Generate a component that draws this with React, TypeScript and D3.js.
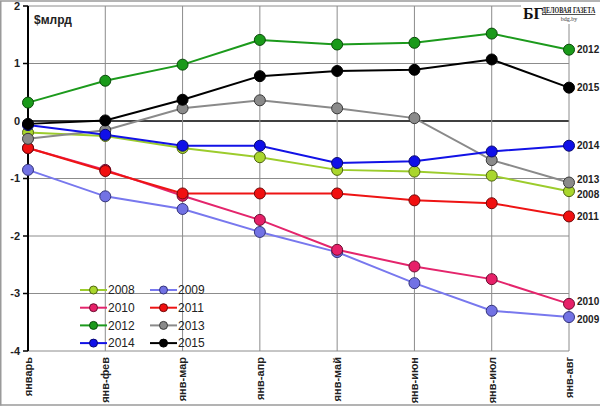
import React from "react";
import * as d3 from "d3";

const categories = ["январь", "янв-фев", "янв-мар", "янв-апр", "янв-май", "янв-июн", "янв-июл", "янв-авг"];
const yTicks = [2, 1, 0, -1, -2, -3, -4];

const s2008 = [-0.2, -0.26, -0.47, -0.63, -0.85, -0.88, -0.95, -1.22];
const s2009 = [-0.85, -1.31, -1.53, -1.93, -2.28, -2.82, -3.3, -3.41];
const s2010 = [-0.47, -0.85, -1.3, -1.72, -2.24, -2.53, -2.75, -3.18];
const s2011 = [-0.47, -0.87, -1.26, -1.26, -1.26, -1.38, -1.43, -1.66];
const s2012 = [0.32, 0.7, 0.98, 1.41, 1.33, 1.36, 1.52, 1.24];
const s2013 = [-0.31, -0.16, 0.22, 0.36, 0.22, 0.05, -0.68, -1.07];
const s2014 = [-0.07, -0.24, -0.43, -0.43, -0.73, -0.7, -0.53, -0.43];
const s2015 = [-0.05, 0.01, 0.37, 0.78, 0.87, 0.89, 1.07, 0.58];

const series = [
  { name: "2008", values: s2008, line: "#9ccc2c", fill: "#a9d62c", stroke: "#4f6410" },
  { name: "2009", values: s2009, line: "#7878ee", fill: "#7272e4", stroke: "#33337a" },
  { name: "2010", values: s2010, line: "#e4256c", fill: "#e62068", stroke: "#6a0d30" },
  { name: "2011", values: s2011, line: "#ee1414", fill: "#f01010", stroke: "#700808" },
  { name: "2012", values: s2012, line: "#1c9a1c", fill: "#1a9a1a", stroke: "#0a4a0a" },
  { name: "2013", values: s2013, line: "#8a8a8a", fill: "#8a8a8a", stroke: "#3a3a3a" },
  { name: "2014", values: s2014, line: "#1212e6", fill: "#1010e8", stroke: "#080870" },
  { name: "2015", values: s2015, line: "#000000", fill: "#000000", stroke: "#000000" },
];

const labelNudge: Record<string, number> = { "2013": -3, "2008": 3, "2010": -2, "2009": 2 };

const W = 600;
const H = 406;
const font = "'Liberation Sans', Arial, sans-serif";

export default function App() {
  const x = d3.scalePoint<string>().domain(categories).range([28, 569]);
  const y = d3.scaleLinear().domain([-4, 2]).range([351, 6]);
  const line = d3
    .line<number>()
    .x((_, i) => x(categories[i]) as number)
    .y((d) => y(d));

  const legendY = (r: number) => 290 + r * 17.7;
  const legendX = [80, 150];

  return (
    <svg
      width={W}
      height={H}
      style={{ position: "absolute", left: 0, top: 0, background: "#fff" }}
      fontFamily={font}
    >
      <rect x={0} y={0} width={W} height={H} fill="#fff" />
      <path d={`M0.75,${H - 0.5} V1 H${W}`} fill="none" stroke="#9a9a9a" strokeWidth={1.5} />
      <line x1={0} x2={W} y1={H - 1} y2={H - 1} stroke="#9a9a9a" strokeWidth={1.5} />

      {yTicks.map((t) => (
        <line
          key={"h" + t}
          x1={x(categories[0])}
          x2={x(categories[categories.length - 1])}
          y1={y(t)}
          y2={y(t)}
          stroke={t === 0 ? "#000" : "#8c8c8c"}
          strokeWidth={t === 0 ? 1.3 : 1}
        />
      ))}
      {categories.slice(1).map((c) => (
        <line key={"v" + c} x1={x(c)} x2={x(c)} y1={y(2)} y2={y(-4)} stroke="#8c8c8c" strokeWidth={1} />
      ))}
      <line x1={x(categories[0])} x2={x(categories[0])} y1={y(2)} y2={y(-4)} stroke="#000" strokeWidth={2} />
      {yTicks.map((t) => (
        <line key={"tk" + t} x1={23} x2={28} y1={y(t)} y2={y(t)} stroke="#000" strokeWidth={1.5} />
      ))}
      {yTicks.map((t) => (
        <text key={"yl" + t} x={20} y={y(t)} dy="0.35em" textAnchor="end" fontSize={11} fontWeight="bold" fill="#222">
          {t}
        </text>
      ))}
      <text x={34} y={24} fontSize={12} fontWeight="bold" fill="#222">
        $млрд
      </text>

      {categories.map((c) => (
        <text
          key={"c" + c}
          transform={`translate(${x(c)},${357}) rotate(-90)`}
          dy="0.35em"
          textAnchor="end"
          fontSize={11}
          fontWeight="bold"
          fill="#222"
        >
          {c}
        </text>
      ))}

      {series.map((s) => (
        <path key={"l" + s.name} d={line(s.values) || ""} fill="none" stroke={s.line} strokeWidth={2} />
      ))}
      {series.map((s) =>
        s.values.map((v, i) => (
          <circle
            key={"m" + s.name + i}
            cx={x(categories[i])}
            cy={y(v)}
            r={5.5}
            fill={s.fill}
            stroke={s.stroke}
            strokeWidth={1}
          />
        ))
      )}

      {series.map((s) => (
        <text
          key={"r" + s.name}
          x={577}
          y={y(s.values[s.values.length - 1]) + (labelNudge[s.name] || 0)}
          dy="0.35em"
          fontSize={10}
          fontWeight="bold"
          fill="#222"
        >
          {s.name}
        </text>
      ))}

      {series.map((s, i) => {
        const col = i % 2;
        const row = Math.floor(i / 2);
        const lx = legendX[col];
        const ly = legendY(row);
        return (
          <g key={"lg" + s.name}>
            <line x1={lx} x2={lx + 27} y1={ly} y2={ly} stroke={s.line} strokeWidth={2} />
            <circle cx={lx + 13.5} cy={ly} r={4} fill={s.fill} stroke={s.stroke} strokeWidth={1} />
            <text x={lx + 28} y={ly} dy="0.35em" fontSize={12} fill="#222">
              {s.name}
            </text>
          </g>
        );
      })}

      <rect x={521} y={2} width={77} height={22} fill="#fff" />
      <text x={523} y={19} fontFamily="'Liberation Serif', serif" fontSize={16} fontWeight="bold" fill="#111">
        БГ
      </text>
      <text
        transform="translate(542,13) scale(1,1.3)"
        fontFamily="'Liberation Serif', serif"
        fontSize={6}
        fontWeight="bold"
        fill="#222"
        textDecoration="underline"
      >
        ДЕЛОВАЯ ГАЗЕТА
      </text>
      <text x={569} y={21} fontFamily="'Liberation Serif', serif" fontSize={6} textAnchor="middle" fill="#333">
        bdg.by
      </text>
    </svg>
  );
}
